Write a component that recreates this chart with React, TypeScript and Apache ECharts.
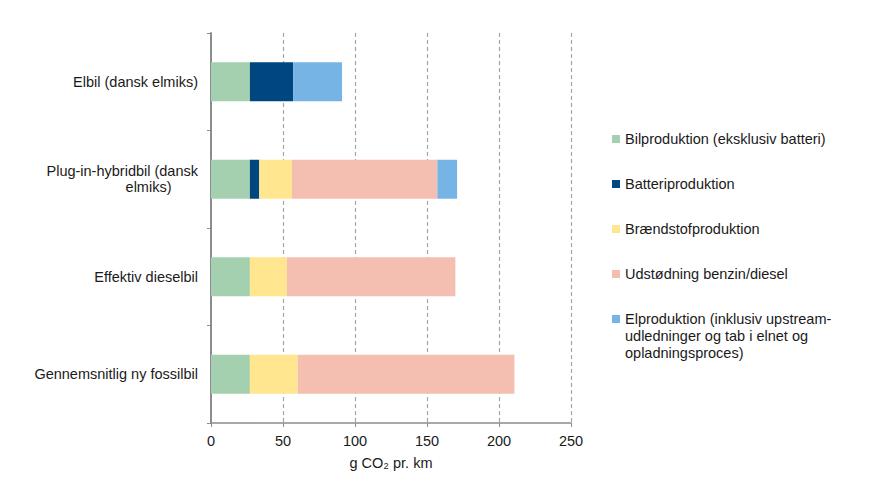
import React, { useEffect, useRef } from "react";
import * as echarts from "echarts";

const categories = [
  "Elbil (dansk elmiks)",
  "Plug-in-hybridbil (dansk\nelmiks)",
  "Effektiv dieselbil",
  "Gennemsnitlig ny fossilbil",
];
const seriesNames = [
  "Bilproduktion (eksklusiv batteri)",
  "Batteriproduktion",
  "Brændstofproduktion",
  "Udstødning benzin/diesel",
  "Elproduktion (inklusiv upstream-\nudledninger og tab i elnet og\nopladningsproces)",
];
const bilproduktion = [27, 27, 27, 27];
const batteriproduktion = [30, 6.5, 0, 0];
const braendstofproduktion = [0, 22.7, 25.7, 33.2];
const udstoedning = [0, 101, 117, 150.5];
const elproduktion = [34, 13.7, 0, 0];
const xTickValues = [0, 50, 100, 150, 200, 250];
const axisName = "g CO₂ pr. km";

const colors = ["#a5d0b0", "#00467f", "#ffe68f", "#f4bfb0", "#75b4e5"];
const FONT = "'Liberation Sans', Arial, sans-serif";
const TEXT = "#1a1a1a";

export default function App() {
  const ref = useRef<HTMLDivElement>(null);
  useEffect(() => {
    if (!ref.current) return;
    const chart = echarts.init(ref.current, undefined, { renderer: "svg" });
    const values = [bilproduktion, batteriproduktion, braendstofproduktion, udstoedning, elproduktion];
    const baseRich = { fontFamily: FONT, fontSize: 14.5, color: TEXT, lineHeight: 16 };
    const option: any = {
      animation: false,
      backgroundColor: "#ffffff",
      color: colors,
      textStyle: { fontFamily: FONT, color: TEXT },
      grid: { left: 211, right: 308, top: 33, bottom: 77 },
      legend: [
        {
          orient: "vertical",
          left: 612,
          top: 130.5,
          padding: 0,
          itemWidth: 8,
          itemHeight: 8,
          itemGap: 28,
          icon: "rect",
          selectedMode: false,
          data: seriesNames.slice(0, 4),
          textStyle: { fontFamily: FONT, fontSize: 14.5, color: TEXT, lineHeight: 17 },
        },
        {
          orient: "vertical",
          left: 612,
          top: 276.5,
          padding: 0,
          itemWidth: 8,
          itemHeight: 8,
          icon: "rect",
          selectedMode: false,
          data: seriesNames.slice(4),
          formatter: (name: string) => "\n\n" + name,
          textStyle: { fontFamily: FONT, fontSize: 14.5, color: TEXT, lineHeight: 17 },
        },
      ],
      xAxis: {
        type: "value",
        min: xTickValues[0],
        max: xTickValues[xTickValues.length - 1],
        interval: xTickValues[1] - xTickValues[0],
        name: axisName,
        nameLocation: "middle",
        nameGap: 32,
        nameTextStyle: { fontFamily: FONT, fontSize: 14.5, color: TEXT },
        axisLine: { show: true, lineStyle: { color: "#8c8c8c", width: 1.5 } },
        axisTick: { show: true, length: 4, lineStyle: { color: "#8c8c8c" } },
        axisLabel: { margin: 10, fontFamily: FONT, fontSize: 14.5, color: TEXT },
        splitLine: {
          show: true,
          showMinLine: false,
          lineStyle: { color: "#a6a6a6", type: [4, 3], width: 1.2 },
        },
      },
      yAxis: {
        type: "category",
        inverse: true,
        data: categories,
        axisLine: { show: true, lineStyle: { color: "#8c8c8c", width: 2 } },
        axisTick: { show: true, length: 4, lineStyle: { color: "#8c8c8c" } },
        axisLabel: {
          margin: 13,
          fontFamily: FONT,
          fontSize: 14.5,
          color: TEXT,
          lineHeight: 16,
          formatter: (v: string) => {
            const parts = v.split("\n");
            if (parts.length < 2) return v;
            return "{a|" + parts[0] + "}\n{b|" + parts[1] + "}";
          },
          rich: {
            a: { ...baseRich },
            b: { ...baseRich, padding: [0, 26.5, 0, 0] },
          },
        },
        splitLine: { show: false },
      },
      series: seriesNames.map((name, i) => ({
        name,
        type: "bar",
        stack: "total",
        barWidth: "40%",
        data: values[i],
        itemStyle: { color: colors[i] },
        emphasis: { disabled: true },
      })),
    };
    chart.setOption(option);
    return () => chart.dispose();
  }, []);
  return (
    <div
      ref={ref}
      style={{ position: "absolute", left: 0, top: 0, width: 879, height: 500, background: "#fff" }}
    />
  );
}
